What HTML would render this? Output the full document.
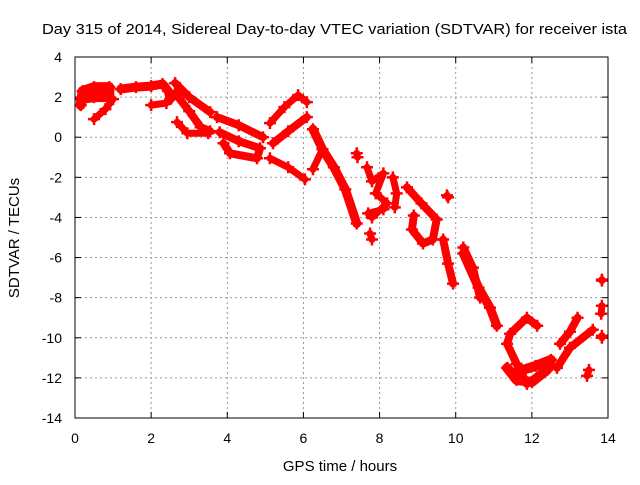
<!DOCTYPE html>
<html><head><meta charset="utf-8"><style>
body{margin:0;background:#fff;}
svg text{font-family:"Liberation Sans",sans-serif;font-size:14px;fill:#000;}
</style></head><body>
<svg id="chart" width="640" height="480" xmlns="http://www.w3.org/2000/svg">
<text x="42" y="34" textLength="585" lengthAdjust="spacingAndGlyphs" style="font-size:15px">Day 315 of 2014, Sidereal Day-to-day VTEC variation (SDTVAR) for receiver ista</text>
<text x="340" y="471" text-anchor="middle" style="font-size:15px">GPS time / hours</text>
<text transform="translate(19,238) rotate(-90)" text-anchor="middle" style="font-size:15px">SDTVAR / TECUs</text>
<g id="grid"></g><g id="ticks"></g><g id="marks"></g>
<rect x="75" y="57" width="533" height="361" fill="none" stroke="#000" stroke-width="1"/>
</svg>
<script>
const xTicks=[0,2,4,6,8,10,12,14];
const yTicks=[4,2,0,-2,-4,-6,-8,-10,-12,-14];
const trackA=[[0.15,1.6],[0.2,2.3],[0.5,2.5],[0.9,2.5],[0.9,2.0],[0.5,2.0],[0.15,1.9]];
const trackA2=[[0.5,0.9],[0.8,1.4],[1.0,1.9]];
const trackB=[[1.2,2.4],[1.6,2.5],[2.0,2.55],[2.3,2.65],[2.45,2.3],[2.5,1.9]];
const trackB2=[[2.0,1.6],[2.4,1.7]];
const trackC=[[2.63,2.7],[3.0,2.0],[3.55,1.25]];
const trackC2=[[2.63,2.2],[3.0,1.3],[3.3,0.5],[3.55,0.3]];
const trackC3=[[2.68,0.75],[2.95,0.2],[3.5,0.2]];
const trackD=[[3.73,1.0],[4.3,0.6],[4.94,0.0]];
const trackD2=[[3.8,0.25],[4.3,-0.2],[4.86,-0.55],[4.78,-1.05],[4.07,-0.8],[3.9,-0.3]];
const trackE=[[5.12,0.7],[5.5,1.5],[5.86,2.1],[6.09,1.75]];
const trackE2=[[5.2,-0.3],[5.6,0.3],[6.09,1.0]];
const trackE3=[[5.12,-1.05],[5.6,-1.5],[6.04,-2.1]];
const trackF=[[6.25,0.4],[6.5,-0.6],[6.8,-1.5],[7.1,-2.6],[7.4,-4.3]];
const trackF2=[[6.25,-1.6],[6.5,-0.6]];
const trackG=[[7.67,-1.5],[7.8,-2.2],[8.1,-1.8],[7.9,-2.8],[8.2,-3.3],[7.8,-4.0],[7.7,-3.8],[8.1,-3.6]];
const trackG2=[[7.4,-0.8],[7.42,-1.0]];
const trackG3=[[7.75,-4.8],[7.8,-5.1]];
const trackH=[[8.35,-2.0],[8.45,-2.8],[8.4,-3.5]];
const trackI=[[8.72,-2.5],[9.1,-3.3],[9.5,-4.1],[9.4,-5.1],[9.14,-5.3],[8.85,-4.6],[8.9,-3.9]];
const trackJ=[[9.77,-2.9],[9.8,-3.0]];
const trackK=[[9.67,-5.1],[9.8,-6.3],[9.93,-7.3]];
const trackL=[[10.2,-5.5],[10.45,-6.5],[10.64,-8.0]];
const trackM=[[10.2,-5.8],[10.6,-7.5],[10.9,-8.5],[11.08,-9.4]];
const trackN=[[12.14,-9.4],[11.87,-9.0],[11.43,-9.8],[11.35,-10.3],[11.6,-11.3],[11.87,-12.3]];
const trackO=[[11.35,-11.5],[11.6,-12.1],[12.0,-12.2],[12.4,-11.6],[12.5,-11.1],[12.1,-11.4],[11.6,-11.7]];
const trackP=[[12.66,-11.5],[13.0,-10.5],[13.6,-9.6]];
const trackQ=[[12.74,-10.3],[13.0,-9.7],[13.2,-9.0]];
const trackR=[[13.5,-11.6],[13.45,-11.9]];
const trackS=[[13.84,-7.1],[13.84,-7.15]];
const trackS2=[[13.84,-8.4],[13.82,-8.8]];
const trackS3=[[13.84,-9.9],[13.84,-10.0]];
const tracks=[trackA,trackA2,trackB,trackB2,trackC,trackC2,trackC3,trackD,trackD2,trackE,trackE2,trackE3,trackF,trackF2,trackG,trackG2,trackG3,trackH,trackI,trackJ,trackK,trackL,trackM,trackN,trackO,trackP,trackQ,trackR,trackS,trackS2,trackS3];
const trackWidths=[10,7,9,7,8,8,7,8,8,7,8,7,9,7,7,7,7,7,8,7,8,8,9,8,10,8,8,7,7,7,7];

const X0=75,X1=608,Y0=57,Y1=418;
function sx(v){return X0+(v-0)/(14-0)*(X1-X0);}
function sy(v){return Y1-(v-(-14))/(4-(-14))*(Y1-Y0);}
const NS="http://www.w3.org/2000/svg";
const grid=document.getElementById('grid'),ticks=document.getElementById('ticks'),marks=document.getElementById('marks');
function mk(t,a,p){const e=document.createElementNS(NS,t);for(const k in a)e.setAttribute(k,a[k]);p.appendChild(e);return e;}
xTicks.forEach(v=>{
  const x=sx(v);
  if(v>0&&v<14){const g=mk('line',{x1:x,x2:x,y1:Y0,y2:Y1,stroke:'#999','stroke-dasharray':'2,3'},grid);
  
  }
  const t=mk('text',{x:x,y:443,'text-anchor':'middle'},ticks);t.textContent=v;
  
  
  mk('line',{x1:x,x2:x,y1:Y1,y2:Y1-6,stroke:'#000'},ticks);
  mk('line',{x1:x,x2:x,y1:Y0,y2:Y0+6,stroke:'#000'},ticks);
});
yTicks.forEach(v=>{
  const y=sy(v);
  if(v<4&&v>-14){const g=mk('line',{x1:X0,x2:X1,y1:y,y2:y,stroke:'#999','stroke-dasharray':'2,3'},grid);
  
  }
  const t=mk('text',{x:62,y:y+5,'text-anchor':'end'},ticks);t.textContent=v;
  
  
  mk('line',{x1:X0,x2:X0+6,y1:y,y2:y,stroke:'#000'},ticks);
  mk('line',{x1:X1,x2:X1-6,y1:y,y2:y,stroke:'#000'},ticks);
});
tracks.forEach((tr,i)=>{
  const pts=tr.map(p=>sx(p[0])+','+sy(p[1])).join(' ');
  const pl=mk('polyline',{points:pts,fill:'none',stroke:'#f00','stroke-width':trackWidths[i],'stroke-linejoin':'round','stroke-linecap':'round'},marks);
  
  
  tr.forEach(p=>{
    const x=sx(p[0]),y=sy(p[1]);
    const m=mk('path',{d:`M${x-6},${y}H${x+6}M${x},${y-6}V${y+6}`,stroke:'#f00','stroke-width':2.5},marks);
    
    
  });
});
</script>
</body></html>
